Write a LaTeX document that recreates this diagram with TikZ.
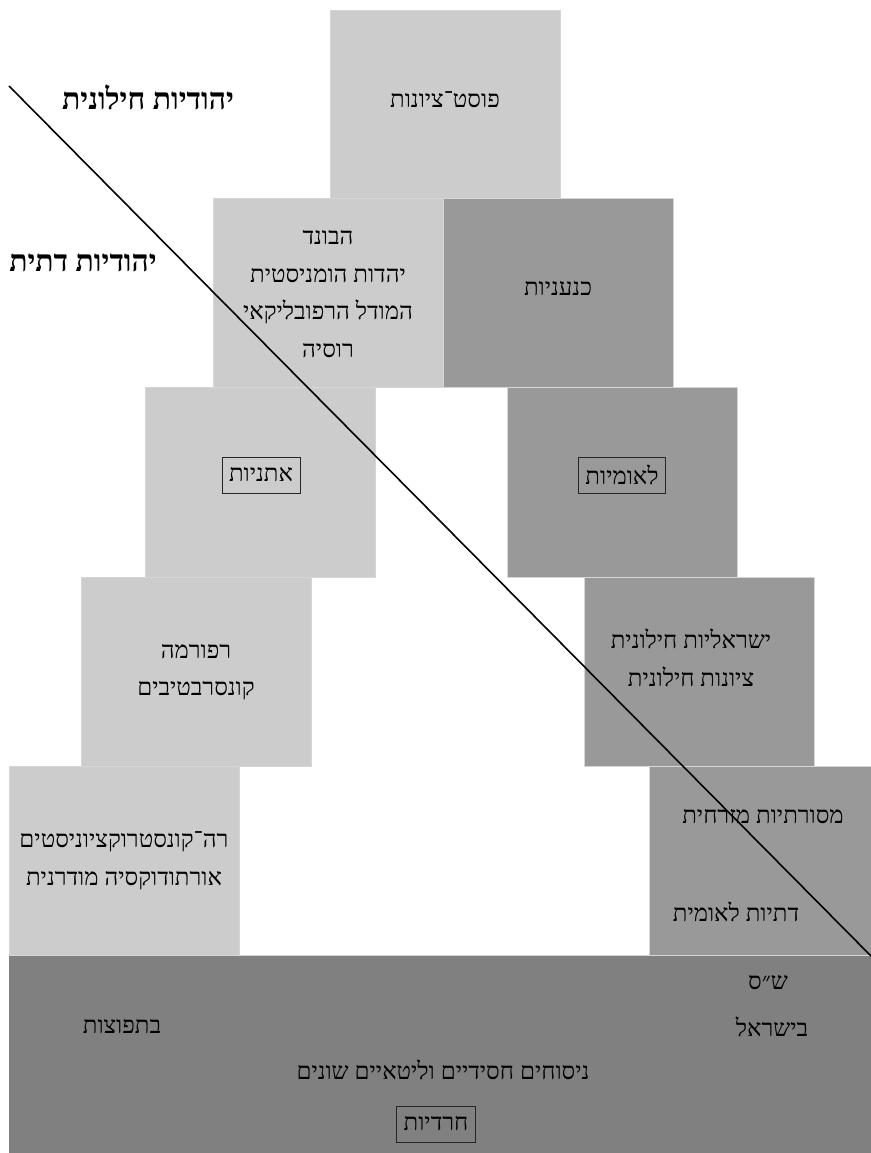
\documentclass[tikz,border=0pt]{standalone}
\usepackage{fontspec}
\TeXXeTstate=1
\newfontfamily\hebfont[Script=Hebrew]{Liberation Serif}
\newcommand{\hb}[1]{\beginR #1\endR}
\definecolor{lightg}{HTML}{CCCCCC}
\definecolor{midg}{HTML}{999999}
\definecolor{darkg}{HTML}{808080}
\definecolor{edgeg}{HTML}{D6D6D6}
\tikzset{
  blk/.style={draw=edgeg, line width=0.8pt, rectangle, inner sep=0pt},
  lbl/.style={font=\hebfont\fontsize{24}{37.5}\selectfont, align=center, inner sep=0pt},
  framed/.style={lbl, draw=black!85, line width=0.9pt, inner xsep=7pt, inner ysep=0pt, minimum height=36pt},
  side/.style={font=\hebfont\bfseries\fontsize{30}{34}\selectfont, inner sep=0pt}
}
\begin{document}
\begin{tikzpicture}[x=1pt,y=-1pt]
\useasboundingbox (0,0) rectangle (870,1153);
\fill[white] (0,0) rectangle (870,1153);
% blocks
\path[fill=lightg] (330,10) rectangle (560,198) node[blk, pos=0.5, minimum width=230pt, minimum height=188pt] (post) {};
\path[fill=lightg] (213,198) rectangle (443,387) node[blk, pos=0.5, minimum width=230pt, minimum height=189pt] (bund) {};
\path[fill=midg] (443,198) rectangle (673,387) node[blk, pos=0.5, minimum width=230pt, minimum height=189pt] (kna) {};
\path[fill=lightg] (145,387) rectangle (375,577) node[blk, pos=0.5, minimum width=230pt, minimum height=190pt] (eth) {};
\path[fill=midg] (507,387) rectangle (737,577) node[blk, pos=0.5, minimum width=230pt, minimum height=190pt] (nat) {};
\path[fill=lightg] (81,577) rectangle (311,766) node[blk, pos=0.5, minimum width=230pt, minimum height=189pt] (ref) {};
\path[fill=midg] (584,577) rectangle (814,766) node[blk, pos=0.5, minimum width=230pt, minimum height=189pt] (isr) {};
\path[fill=lightg] (9,766) rectangle (239,955) node[blk, pos=0.5, minimum width=230pt, minimum height=189pt] (recon) {};
\path[fill=midg] (649,766) rectangle (871,955) node[blk, pos=0.5, minimum width=222pt, minimum height=189pt] (mas) {};
\path[fill=darkg] (9,955) rectangle (871,1154) node[blk, draw=none, pos=0.5, minimum width=862pt, minimum height=199pt] (har) {};
\draw[edgeg, line width=0.8pt] (9,955) -- (871,955);
% texts
\node[lbl] (t1) at (445,100) {\hb{פוסט־ציונות}};
\node[lbl] (t2) at (328,294) {\hb{הבונד}\\\hb{יהדות הומניסטית}\\\hb{המודל הרפובליקאי}\\\hb{רוסיה}};
\node[lbl] (t3) at (558,289) {\hb{כנעניות}};
\node[framed] (t4) at (261,475) {\hb{אתניות}};
\node[framed] (t5) at (622,475) {\hb{לאומיות}};
\node[lbl] (t6) at (196,672) {\hb{רפורמה}\\\hb{קונסרבטיבים}};
\node[lbl] (t7) at (691,658) {\hb{ישראליות חילונית}\\\hb{ציונות חילונית}};
\node[lbl] (t8) at (124,861) {\hb{רה־קונסטרוקציוניסטים}\\\hb{אורתודוקסיה מודרנית}};
\node[lbl] (t9) at (763,817) {\hb{מסורתיות מזרחית}};
\node[lbl] (t10) at (736,912) {\hb{דתיות לאומית}};
\node[lbl] (t11) at (768,983) {\hb{ש״ס}};
\node[lbl] (t12) at (772,1027) {\hb{בישראל}};
\node[lbl] (t13) at (122,1027) {\hb{בתפוצות}};
\node[lbl] (t14) at (443,1070) {\hb{ניסוחים חסידיים וליטאיים שונים}};
\node[framed] (t15) at (436,1124) {\hb{חרדיות}};
\node[side] (s1) at (148,97) {\hb{יהודיות חילונית}};
\node[side] (s2) at (83,263) {\hb{יהודיות דתית}};
% diagonal
\coordinate (d1) at (9,86);
\coordinate (d2) at (871,956);
\draw[black, line width=1.6pt] (d1) -- (d2);
\end{tikzpicture}
\end{document}
